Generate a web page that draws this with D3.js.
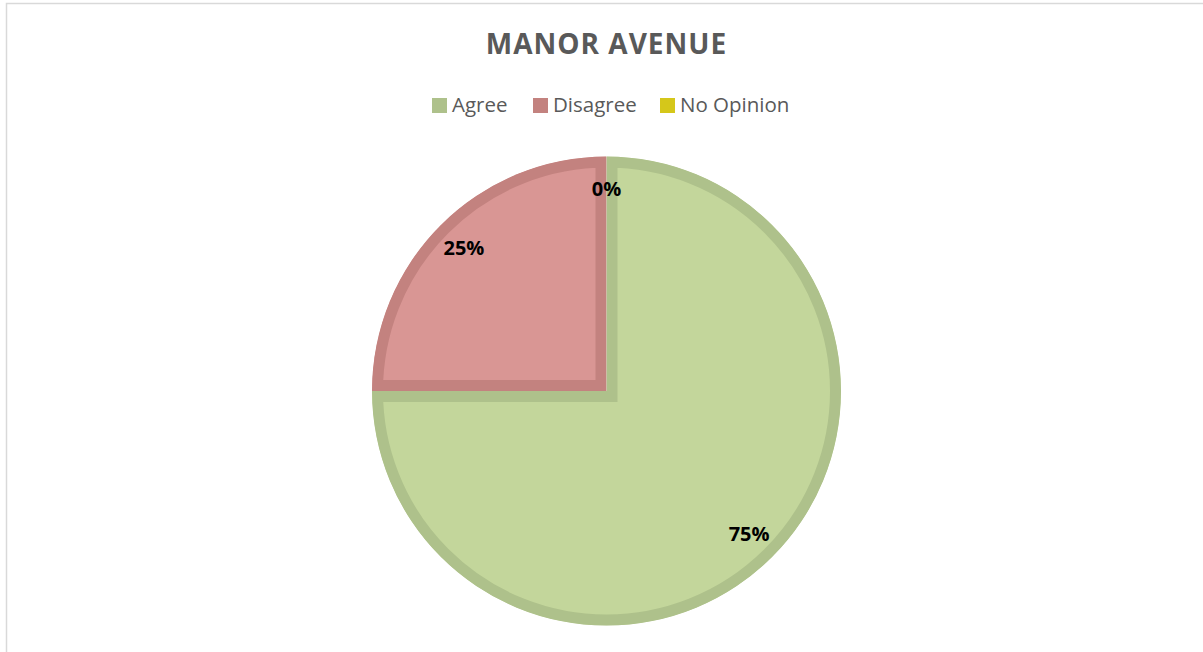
<!DOCTYPE html>
<html>
<head>
<meta charset="utf-8">
<script src="https://cdn.jsdelivr.net/npm/d3@7"></script>
<style>
	body { margin: 0; background: #fff; }
	svg { display: block; }
	.title { font-family: "Open Sans", sans-serif; font-weight: bold; font-size: 28px; fill: #595959; letter-spacing: 1px; }
	.legend text { font-family: "Open Sans", sans-serif; font-size: 20.5px; fill: #595959; }
	.pct { font-family: "Open Sans", sans-serif; font-weight: bold; font-size: 20px; fill: #000; }
</style>
</head>
<body>
<svg></svg>
<script>
	var sizeSvg = { wt: 1203, ht: 652 };

	var categories = ["Agree", "Disagree", "No Opinion"];
	var values = [75, 25, 0];
	var fillColors = ["#c3d69b", "#d99694", "#e6d63a"];
	var edgeColors = ["#aec18b", "#c3827f", "#d5c71a"];

	var center = { x: 606.5, y: 391 };
	var radius = 234.5;
	var edgeWidth = 11;

	var svg = d3.select("svg")
		.attr("width", sizeSvg.wt)
		.attr("height", sizeSvg.ht);

	// chart frame (only left and top edges visible in the reference)
	svg.append("rect")
		.attr("x", 6.5).attr("y", 3.5)
		.attr("width", sizeSvg.wt + 10).attr("height", sizeSvg.ht + 10)
		.attr("fill", "none").attr("stroke", "#d9d9d9").attr("stroke-width", 1.5);

	svg.append("text").attr("class", "title")
		.attr("x", center.x).attr("y", 54)
		.attr("text-anchor", "middle")
		.text("MANOR AVENUE");

	// legend
	var legendX = [432, 533, 660];
	var legend = svg.append("g").attr("class", "legend");
	var item = legend.selectAll("g").data(categories).enter().append("g")
		.attr("transform", function (d, i) { return "translate(" + legendX[i] + ",98)"; });
	item.append("rect")
		.attr("width", 15).attr("height", 15)
		.attr("fill", function (d, i) { return edgeColors[i]; });
	item.append("text")
		.attr("x", 20).attr("y", 13.5)
		.text(function (d) { return d; });

	// pie
	var pie = d3.pie().sort(null).value(function (d) { return d; });
	var arcs = pie(values);
	var arc = d3.arc().innerRadius(0).outerRadius(radius);
	var labelArc = d3.arc().innerRadius(radius * 0.86).outerRadius(radius * 0.86);

	var g = svg.append("g").attr("transform", "translate(" + center.x + "," + center.y + ")");
	var defs = svg.append("defs");

	defs.selectAll("clipPath").data(arcs).enter().append("clipPath")
		.attr("id", function (d, i) { return "clip" + i; })
		.append("path").attr("d", arc);

	g.selectAll("path.slice").data(arcs).enter().append("path")
		.attr("class", "slice")
		.attr("d", arc)
		.attr("fill", function (d, i) { return fillColors[i]; })
		.attr("stroke", function (d, i) { return edgeColors[i]; })
		.attr("stroke-width", edgeWidth * 2)
		.attr("stroke-linejoin", "miter")
		.attr("clip-path", function (d, i) { return "url(#clip" + i + ")"; });

	g.selectAll("text.pct").data(arcs).enter().append("text")
		.attr("class", "pct")
		.attr("text-anchor", "middle")
		.attr("dy", "0.35em")
		.attr("transform", function (d) { return "translate(" + labelArc.centroid(d) + ")"; })
		.text(function (d) { return Math.round(d.value / d3.sum(values) * 100) + "%"; });
</script>
</body>
</html>
